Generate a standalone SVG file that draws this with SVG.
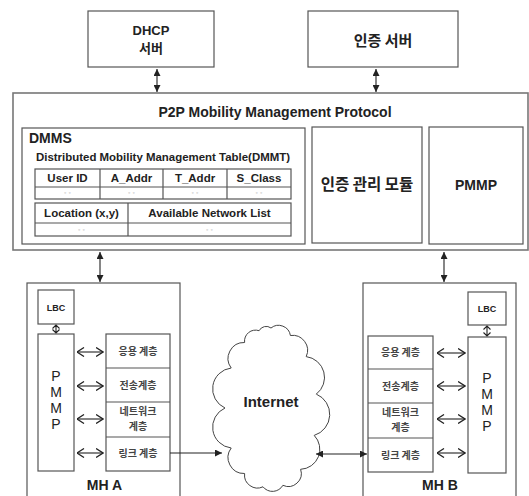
<svg xmlns="http://www.w3.org/2000/svg" width="529" height="496" viewBox="0 0 529 496">
<style>
.box{fill:#fff;stroke:#555;stroke-width:1.2}
.big{fill:#fff;stroke:#777;stroke-width:1.6}
.ln{stroke:#222;stroke-width:1.1;fill:none}
.t{font-family:"Liberation Sans",Arial,sans-serif;font-weight:bold;fill:#222;text-anchor:middle}
.k{font-family:"Noto Sans CJK KR","Noto Sans",sans-serif;font-weight:bold;fill:#222;text-anchor:middle}
.kl{font-family:"Noto Sans CJK KR","Noto Sans",sans-serif;font-weight:bold;fill:#444;text-anchor:middle;font-size:10px}
.d{font-family:"Liberation Sans",Arial,sans-serif;fill:#aaa;text-anchor:middle;font-size:7px}
.pm{font-family:"Liberation Sans",Arial,sans-serif;fill:#222;text-anchor:middle;font-size:14px}
</style>
<defs>
<marker id="fa" viewBox="0 0 8 8" refX="8" refY="4" markerWidth="7" markerHeight="7" markerUnits="userSpaceOnUse" orient="auto-start-reverse"><path d="M0,0 L8,4 L0,8 z" fill="#222"/></marker>
<marker id="oa" viewBox="0 0 8 10" refX="7.5" refY="5" markerWidth="8" markerHeight="10" markerUnits="userSpaceOnUse" orient="auto-start-reverse"><path d="M0.5,0.5 L7.5,5 L0.5,9.5" fill="none" stroke="#222" stroke-width="1.3"/></marker>
</defs>

<g id="dhcp">
<rect class="box" x="88" y="11" width="126" height="56"/>
<text class="t" x="151" y="35" font-size="13">DHCP</text>
<text class="k" x="151" y="53" font-size="13">서버</text>
</g>
<g id="auth-server">
<rect class="box" x="308" y="11" width="150" height="56"/>
<text class="k" x="383" y="46" font-size="15">인증 서버</text>
</g>

<g id="p2p">
<rect class="big" x="13" y="93" width="515" height="157"/>
<text class="t" x="275" y="117" font-size="14">P2P Mobility Management Protocol</text>
</g>

<g id="dmms">
<rect class="box" x="22" y="128" width="283" height="116"/>
<text class="t" x="29" y="143" font-size="14" style="text-anchor:start">DMMS</text>
<text class="t" x="163" y="161" font-size="11.5" textLength="254" lengthAdjust="spacingAndGlyphs">Distributed Mobility Management Table(DMMT)</text>
<rect class="box" x="35" y="169" width="256" height="30"/>
<path class="box" d="M35,187 H291 M100,169 V199 M163,169 V199 M227,169 V199"/>
<text class="t" x="67.5" y="182" font-size="11.5">User ID</text>
<text class="t" x="131.5" y="182" font-size="11.5">A_Addr</text>
<text class="t" x="195" y="182" font-size="11.5">T_Addr</text>
<text class="t" x="259" y="182" font-size="11.5">S_Class</text>
<text class="d" x="67.5" y="195">◦ ◦</text>
<text class="d" x="131.5" y="195">◦ ◦</text>
<text class="d" x="195" y="195">◦ ◦</text>
<text class="d" x="259" y="195">◦ ◦</text>
<rect class="box" x="35" y="203" width="256" height="33"/>
<path class="box" d="M35,223 H291 M128,203 V236"/>
<text class="t" x="81.5" y="217" font-size="11.5">Location (x,y)</text>
<text class="t" x="209.5" y="217" font-size="11.5">Available Network List</text>
<text class="d" x="81.5" y="232">◦ ◦</text>
<text class="d" x="209.5" y="232">◦ ◦</text>
</g>

<g id="auth-module">
<rect class="box" x="312" y="127" width="110" height="116"/>
<text class="k" x="367" y="190" font-size="15.5">인증 관리 모듈</text>
</g>
<g id="pmmp-top">
<rect class="box" x="429" y="127" width="94" height="117"/>
<text class="t" x="476" y="190" font-size="14">PMMP</text>
</g>

<g id="mha">
<rect class="box" x="27" y="283" width="153" height="220"/>
<text class="t" x="104.5" y="490" font-size="14">MH A</text>
<rect class="box" x="38" y="290" width="36" height="34"/>
<text class="t" x="56" y="311" font-size="9">LBC</text>
<rect class="box" x="38" y="334" width="36" height="137"/>
<text class="pm" x="56" y="381">P</text>
<text class="pm" x="56" y="397">M</text>
<text class="pm" x="56" y="413">M</text>
<text class="pm" x="56" y="429">P</text>
<rect class="box" x="106" y="334" width="64" height="137"/>
<path class="box" d="M106,368 H170 M106,402 H170 M106,437 H170"/>
<text class="kl" x="138" y="355">응용 계층</text>
<text class="kl" x="138" y="389">전송계층</text>
<text class="kl" x="138" y="415" font-size="9.5">네트워크</text>
<text class="kl" x="138" y="430" font-size="9.5">계층</text>
<text class="kl" x="138" y="457">링크 계층</text>
</g>

<g id="mhb">
<rect class="box" x="363" y="283" width="153" height="220"/>
<text class="t" x="440" y="490" font-size="14">MH B</text>
<rect class="box" x="468" y="292" width="38" height="33"/>
<text class="t" x="487" y="312" font-size="9">LBC</text>
<rect class="box" x="468" y="337" width="38" height="136"/>
<text class="pm" x="487" y="383">P</text>
<text class="pm" x="487" y="399">M</text>
<text class="pm" x="487" y="415">M</text>
<text class="pm" x="487" y="431">P</text>
<rect class="box" x="368" y="336" width="65" height="136"/>
<path class="box" d="M368,369 H433 M368,403 H433 M368,438 H433"/>
<text class="kl" x="400.5" y="356">응용 계층</text>
<text class="kl" x="400.5" y="390">전송계층</text>
<text class="kl" x="400.5" y="416" font-size="9.5">네트워크</text>
<text class="kl" x="400.5" y="431" font-size="9.5">계층</text>
<text class="kl" x="400.5" y="459">링크 계층</text>
</g>

<g id="internet">
<path fill="#fff" stroke="#444" stroke-width="1" d="M271,328 A12,12 0 0 1 290.4,335.5 A15,15 0 0 1 306.2,356.6 A21,21 0 0 1 316.3,394.1 A22,22 0 0 1 314.2,435.4 A20,20 0 0 1 300.6,469.3 A13,13 0 0 1 282.9,485.3 A12,12 0 0 1 263,486.8 A13,13 0 0 1 244.6,473.5 A16,16 0 0 1 231.2,448 A21,21 0 0 1 225,408 A21,21 0 0 1 231.2,368 A16,16 0 0 1 244.6,342.5 A11,11 0 0 1 259.1,330.7 A8,8 0 0 1 271,328 Z"/>
<text class="t" x="271" y="407" font-size="15" fill="#333">Internet</text>
</g>

<g id="connectors">
<line class="ln" x1="157" y1="69" x2="157" y2="92" marker-start="url(#fa)" marker-end="url(#fa)"/>
<line class="ln" x1="376" y1="69" x2="376" y2="92" marker-start="url(#fa)" marker-end="url(#fa)"/>
<line class="ln" x1="100" y1="252" x2="100" y2="282" marker-start="url(#fa)" marker-end="url(#fa)"/>
<line class="ln" x1="444" y1="252" x2="444" y2="282" marker-start="url(#fa)" marker-end="url(#fa)"/>
<path class="ln" stroke-width="1.3" d="M52.5,328.5 L56,325 L59.5,328.5 M56,325 V333 M52.5,329.5 L56,333 L59.5,329.5"/>
<path class="ln" stroke-width="1.3" d="M483.5,329.5 L487,326 L490.5,329.5 M487,326 V336 M483.5,332.5 L487,336 L490.5,332.5"/>
<line class="ln" x1="77" y1="352" x2="103" y2="352" marker-start="url(#oa)" marker-end="url(#oa)"/>
<line class="ln" x1="77" y1="386" x2="103" y2="386" marker-start="url(#oa)" marker-end="url(#oa)"/>
<line class="ln" x1="77" y1="419" x2="103" y2="419" marker-start="url(#oa)" marker-end="url(#oa)"/>
<line class="ln" x1="77" y1="453" x2="103" y2="453" marker-start="url(#oa)" marker-end="url(#oa)"/>
<line class="ln" x1="437" y1="353" x2="465" y2="353" marker-start="url(#oa)" marker-end="url(#oa)"/>
<line class="ln" x1="437" y1="386" x2="465" y2="386" marker-start="url(#oa)" marker-end="url(#oa)"/>
<line class="ln" x1="437" y1="419" x2="465" y2="419" marker-start="url(#oa)" marker-end="url(#oa)"/>
<line class="ln" x1="437" y1="453" x2="465" y2="453" marker-start="url(#oa)" marker-end="url(#oa)"/>
<line class="ln" x1="170" y1="453" x2="222" y2="453" marker-end="url(#fa)"/>
<line class="ln" x1="316" y1="454" x2="367" y2="454" marker-start="url(#fa)" marker-end="url(#fa)"/>
</g>
</svg>
